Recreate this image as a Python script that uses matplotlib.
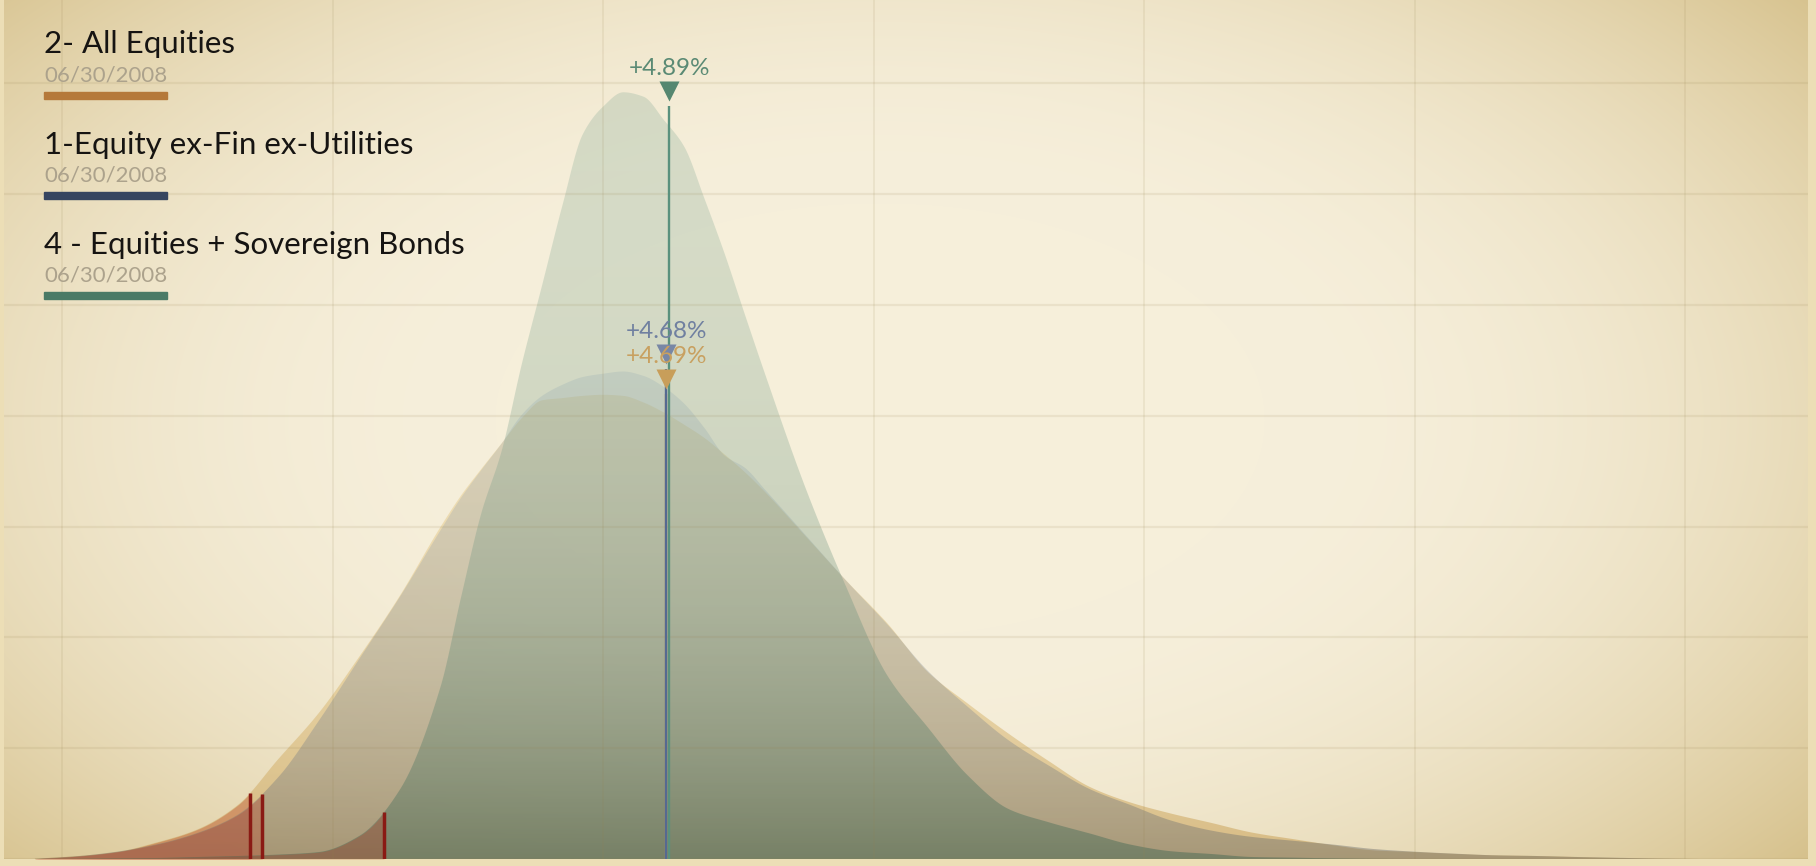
import numpy as np
import matplotlib
matplotlib.use("Agg")
import matplotlib.pyplot as plt
from matplotlib.patches import PathPatch, Rectangle

# ---------------- data ----------------
returns = [-42, -39, -36, -33, -30, -27, -24, -21, -18, -15, -12,
           -10.5, -9, -7.5, -6, -4.5, -3, -1.5, 0, 1.5, 3, 4.5, 6, 7.5, 9, 10.5, 12,
           15, 18, 21, 24, 27, 30, 33, 36, 39, 42, 45, 48, 51, 54, 57, 60, 63, 66, 69,
           72, 75, 78, 81]

all_equities = [0.003, 0.025, 0.062, 0.149, 0.266, 0.487, 0.903, 1.32, 1.83, 2.38, 3.00,
                3.28, 3.52, 3.75, 3.98, 4.14, 4.16, 4.18, 4.19, 4.18, 4.12, 4.03, 3.92, 3.80,
                3.65, 3.49, 3.31,
                2.91, 2.51, 2.13, 1.69, 1.40, 1.13, 0.88, 0.65, 0.51, 0.41, 0.325, 0.238,
                0.18, 0.124, 0.078, 0.063, 0.046, 0.033, 0.027, 0.018, 0.009, 0.003, 0.0]

equity_ex_fin = [0.002, 0.024, 0.065, 0.132, 0.235, 0.40, 0.74, 1.25, 1.81, 2.37, 2.97,
                 3.26, 3.51, 3.75, 4.01, 4.18, 4.28, 4.35, 4.38, 4.40, 4.36, 4.26, 4.11, 3.89,
                 3.64, 3.53, 3.33,
                 2.92, 2.51, 2.12, 1.70, 1.37, 1.07, 0.84, 0.63, 0.487, 0.347, 0.256, 0.199,
                 0.165, 0.130, 0.090, 0.066, 0.048, 0.033, 0.027, 0.018, 0.011, 0.004, 0.0]

eq_sov_bonds = [0.0, 0.002, 0.006, 0.009, 0.018, 0.027, 0.04, 0.063, 0.21, 0.63, 1.56,
                2.36, 3.12, 3.68, 4.47, 5.18, 5.90, 6.54, 6.79, 6.92, 6.88, 6.67, 6.43, 5.96,
                5.46, 4.91, 4.37,
                3.34, 2.45, 1.66, 1.19, 0.75, 0.45, 0.33, 0.23, 0.13, 0.07, 0.045, 0.018,
                0.012, 0.006, 0.002, 0.0, 0.0, 0.0, 0.0, 0.0, 0.0, 0.0, 0.0]

series_names = ["2- All Equities", "1-Equity ex-Fin ex-Utilities", "4 - Equities + Sovereign Bonds"]
series_dates = ["06/30/2008", "06/30/2008", "06/30/2008"]
mean_returns = [4.69, 4.68, 4.89]
var_returns = [-26.1, -25.2, -16.2]
mean_labels = ["+4.69%", "+4.68%", "+4.89%"]

x_grid = [-40, -20, 0, 20, 40, 60, 80]
y_grid = [0, 1, 2, 3, 4, 5, 6, 7]

# ---------------- helpers ----------------
def pchip(x, y, xn):
    x = np.asarray(x, float); y = np.asarray(y, float)
    h = np.diff(x); d = np.diff(y) / h
    m = np.zeros_like(y)
    for k in range(1, len(y) - 1):
        if d[k - 1] * d[k] > 0:
            w1 = 2 * h[k] + h[k - 1]; w2 = h[k] + 2 * h[k - 1]
            m[k] = (w1 + w2) / (w1 / d[k - 1] + w2 / d[k])
    m[0] = d[0]; m[-1] = d[-1]
    idx = np.clip(np.searchsorted(x, xn) - 1, 0, len(x) - 2)
    hh = h[idx]; t = (xn - x[idx]) / hh
    h00 = 2 * t**3 - 3 * t**2 + 1; h10 = t**3 - 2 * t**2 + t
    h01 = -2 * t**3 + 3 * t**2; h11 = t**3 - t**2
    return h00 * y[idx] + h10 * hh * m[idx] + h01 * y[idx + 1] + h11 * hh * m[idx + 1]

def rgb(c):
    return tuple(v / 255 for v in c)

W, H = 1816, 866
XMIN, XMAX = -44.29, 89.09
YMAX = 7.753

fig = plt.figure(figsize=(W / 100, H / 100), dpi=100, facecolor=rgb((236, 222, 182)))
ax = fig.add_axes([4 / W, 7 / H, 1804 / W, 859 / H])
ax.set_axis_off()

# background radial vignette
cols = np.arange(1804) + 4
rows = np.arange(859)
X, Y = np.meshgrid(cols, rows)
dx = (X - 880) / 1100; dy = (Y - 420) / 620
r = np.sqrt(dx**2 + dy**2)
t = np.clip((r - 0.35) / 0.75, 0, 1) ** 2
c0 = np.array([246, 239, 219]) / 255; c1 = np.array([214, 193, 140]) / 255
bg = c0 + (c1 - c0) * t[..., None]
ax.imshow(bg, extent=[XMIN, XMAX, 0, YMAX], origin="upper", aspect="auto", zorder=0,
          interpolation="bilinear")

def grad_fill(xs, ys, ctop, cbot, z, gamma=3.0):
    poly = ax.fill_between(xs, ys, 0, facecolor="none", edgecolor="none")
    path = poly.get_paths()[0]
    patch = PathPatch(path, transform=ax.transData, facecolor="none", edgecolor="none")
    ax.add_patch(patch)
    n = 400
    tt = np.linspace(0, 1, n)[:, None]
    w = (1 - tt) ** gamma
    ct = np.array([ctop[0] / 255, ctop[1] / 255, ctop[2] / 255, ctop[3]])
    cb = np.array([cbot[0] / 255, cbot[1] / 255, cbot[2] / 255, cbot[3]])
    rgba = ct + (cb - ct) * w
    img = np.repeat(rgba[:, None, :], 2, axis=1)
    im = ax.imshow(img, extent=[XMIN, XMAX, 0, YMAX], origin="lower", aspect="auto",
                   zorder=z, interpolation="bilinear")
    im.set_clip_path(patch)

xs = np.linspace(-42, 81, 2500)
data = [all_equities, equity_ex_fin, eq_sov_bonds]
fill_top = [(235, 210, 145, 0.45), (150, 170, 200, 0.22), (140, 175, 155, 0.30)]
fill_bot = [(205, 168, 100, 0.65), (110, 110, 105, 0.45), (80, 110, 88, 0.55)]
line_cols = [(200, 160, 96), (85, 105, 145), (90, 145, 125)]
tri_cols = [(200, 158, 90), (120, 135, 165), (85, 135, 112)]
txt_cols = [(200, 160, 96), (112, 128, 160), (90, 138, 116)]

for i, vals in enumerate(data):
    ys = np.clip(pchip(returns, vals, xs), 0, None)
    z = 2 + i
    grad_fill(xs, ys, fill_top[i], fill_bot[i], z)
    v = var_returns[i]
    xr = np.append(xs[xs < v], v)
    yr = np.clip(pchip(returns, vals, xr), 0, None)
    ax.fill_between(xr, yr, 0, color=rgb((190, 68, 42)), alpha=0.33, lw=0, zorder=z + 0.5)

# grid
for xv in x_grid:
    ax.axvline(xv, color=rgb((150, 130, 80)), alpha=0.12, lw=1.3, zorder=6)
for yv in y_grid:
    ax.axhline(yv, color=rgb((150, 130, 80)), alpha=0.12, lw=1.6, zorder=6)

# VaR lines
for i, vals in enumerate(data):
    v = var_returns[i]
    yv = float(np.clip(pchip(returns, vals, np.array([v])), 0, None)[0])
    ax.plot([v, v], [0, yv], color=rgb((138, 26, 20)), lw=2.5, zorder=8, solid_capstyle="butt")

# mean lines, markers, labels
px = 1 / 110.8
for i in [0, 1, 2]:
    vals = data[i]
    m = mean_returns[i]
    ym = float(pchip(returns, vals, np.array([m]))[0])
    ax.plot([m, m], [0, ym + 20 * px], color=rgb(line_cols[i]), lw=1.7, zorder=9 + i * 0.1,
            solid_capstyle="butt")
    ax.plot([m], [ym + 35 * px], marker="v", ms=14, color=rgb(tri_cols[i]), mec="none",
            zorder=9.5 + i * 0.1)
    ax.text(m, ym + 51 * px, mean_labels[i], ha="center", va="baseline", fontsize=17.5,
            family="Lato", color=rgb(txt_cols[i]), zorder=10)

ax.set_xlim(XMIN, XMAX)
ax.set_ylim(0, YMAX)

# legend block
swatch_cols = [(181, 121, 58), (54, 69, 96), (74, 122, 102)]
title_base = [53.3, 154, 254]
date_base = [81.7, 181.7, 282]
sw_top = [92.3, 192.3, 292.3]
for i in range(3):
    fig.text(44 / W, 1 - title_base[i] / H, series_names[i], fontsize=22.5, family="Lato",
             color=rgb((22, 20, 18)), va="baseline", ha="left")
    fig.text(44 / W, 1 - date_base[i] / H, series_dates[i], fontsize=16, family="Lato",
             color=rgb((172, 162, 140)), va="baseline", ha="left")
    fig.patches.append(Rectangle((44 / W, 1 - (sw_top[i] + 7) / H), 123 / W, 7 / H,
                                 transform=fig.transFigure, color=rgb(swatch_cols[i]),
                                 zorder=5))

fig.savefig("out.png", dpi=100, facecolor=fig.get_facecolor())
